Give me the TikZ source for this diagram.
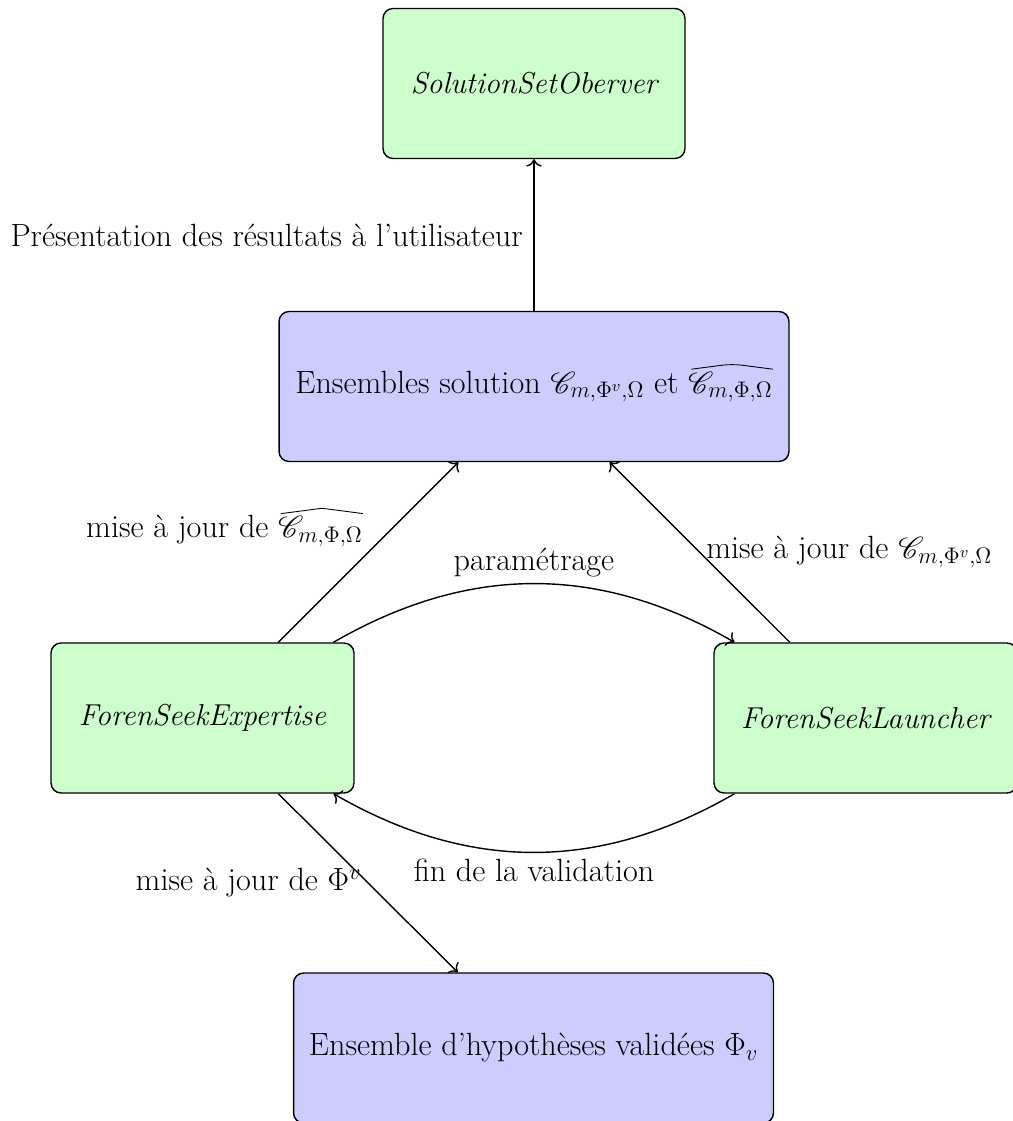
\RequirePackage{fix-cm}
\documentclass[tikz,border=0pt]{standalone}
\usepackage{amsmath,mathrsfs}
\usetikzlibrary{arrows.meta}
\newsavebox{\hatbox}
\newlength{\hatw}
\newlength{\hath}
\newcommand{\widerhat}[1]{\sbox{\hatbox}{$#1$}\setlength{\hatw}{\wd\hatbox}\setlength{\hath}{\ht\hatbox}\mathord{\rlap{\usebox{\hatbox}}\tikz[baseline=0pt]{\path[use as bounding box] (0pt,0pt) rectangle (\hatw,\hath); \draw[-, line width=0.5pt, line cap=round] (0.04*\hatw,\hath+1.5pt) -- (0.52*\hatw,\hath+4.5pt) -- (\hatw,\hath+1.5pt);}}}
\begin{document}
\begin{tikzpicture}[x=0.02cm,y=-0.02cm,
  lbl/.style={font=\fontsize{18.3}{22}\selectfont},
  box/.style={draw=black, line width=0.8pt, rounded corners=0.2cm, minimum height=3cm, inner sep=0pt, align=center, font=\fontsize{18.3}{22}\selectfont},
  gbox/.style={box, fill=green!20, font=\fontsize{17.2}{21}\selectfont\itshape},
  bbox/.style={box, fill=blue!20},
  conn/.style={-{To[scale=1.25]}, line width=0.8pt}
]
\useasboundingbox (0,0) rectangle (1012,1121);
\node[gbox, minimum width=6.04cm] (sol) at (534,83.5) {SolutionSetOberver};
\node[bbox, minimum width=10.2cm] (ens) at (534,386.5) {Ensembles solution $\mathscr{C}_{m,\Phi^v,\Omega}$ et $\widerhat{\mathscr{C}_{m,\Phi,\Omega}}$};
\node[gbox, minimum width=6.06cm] (exp) at (202.5,718) {ForenSeekExpertise};
\node[gbox, minimum width=6.06cm] (lau) at (865.5,718) {ForenSeekLauncher};
\node[bbox, minimum width=9.6cm] (hyp) at (533.5,1048) {Ensemble d'hypoth\`eses valid\'ees $\Phi_v$};

\draw[conn] (ens) -- node[lbl, midway, left, inner sep=6pt] {Pr\'esentation des r\'esultats \`a l'utilisateur} (sol);
\draw[conn] (exp) -- node[lbl, midway, above left, inner sep=3pt] {mise \`a jour de $\widerhat{\mathscr{C}_{m,\Phi,\Omega}}$} (ens);
\draw[conn] (lau) -- node[lbl, midway, right] {mise \`a jour de $\mathscr{C}_{m,\Phi^v,\Omega}$} (ens);
\draw[conn] (exp) to[bend left=30] node[lbl, midway, above] {param\'etrage} (lau);
\draw[conn] (lau) to[bend left=30] node[lbl, midway, below] {fin de la validation} (exp);
\draw[conn] (exp) -- node[lbl, midway, left] {mise \`a jour de $\Phi^v$} (hyp);
\end{tikzpicture}
\end{document}
